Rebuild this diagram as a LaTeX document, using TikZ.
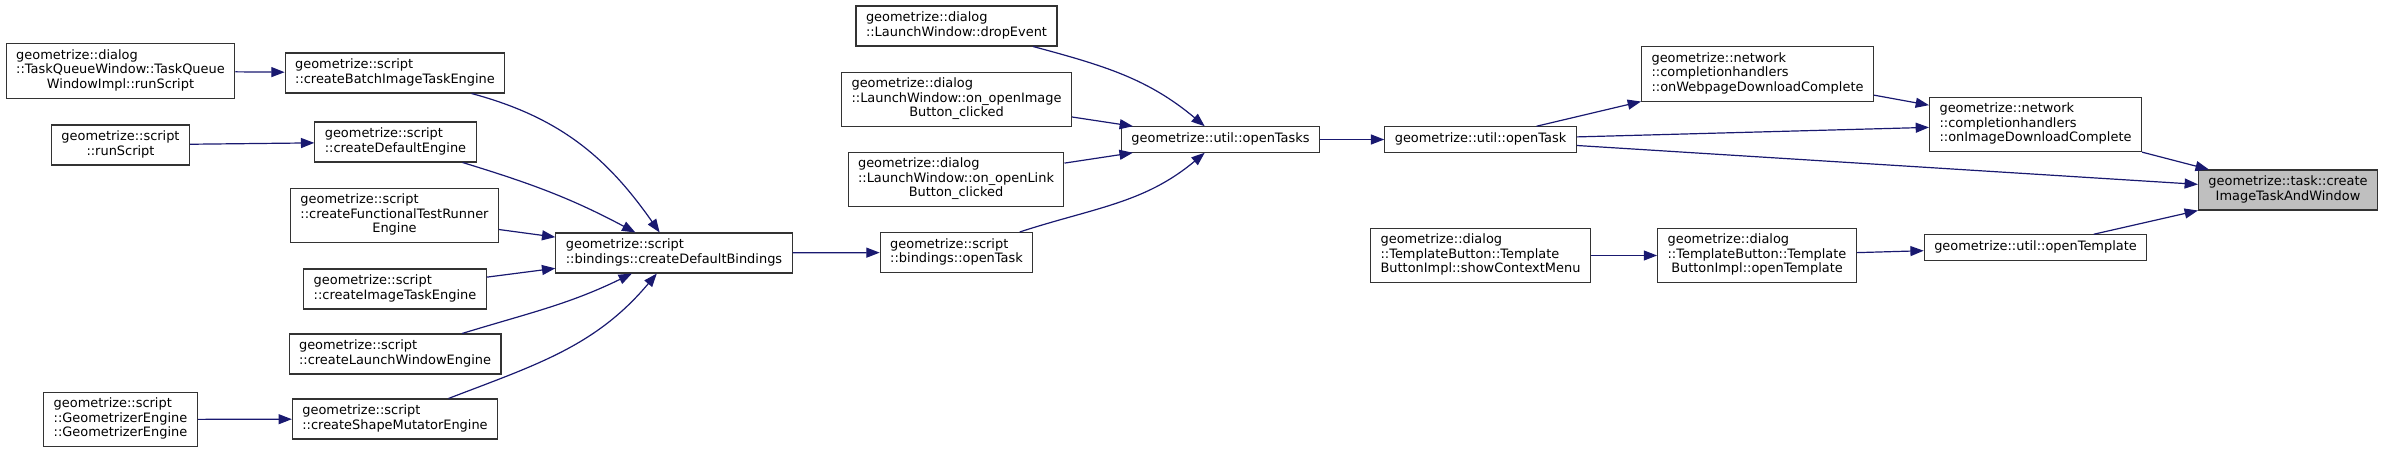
\documentclass[tikz,border=0pt]{standalone}
\usepackage{fontspec}
\setmainfont{DejaVu Sans}
\usetikzlibrary{arrows.meta}
\definecolor{edgeblue}{HTML}{191970}
\newcommand{\fnlabel}[2]{\begin{tabular}{@{}l@{}}#1\\\multicolumn{1}{@{}c@{}}{#2}\end{tabular}}
\newcommand{\fnline}[1]{\begin{tabular}{@{}c@{}}#1\end{tabular}}
\begin{document}
\begin{tikzpicture}[x=0.75pt,y=-0.75pt,
  fn/.style={draw=black!80, line width=0.8pt, fill=white, inner xsep=7.5pt, inner ysep=4.1pt,
    font=\fontsize{9.7}{10.9}\selectfont},
  calls/.style={edgeblue, line width=0.9pt, -{Triangle[length=10pt,width=7.5pt]}}]
  \useasboundingbox (0,0) rectangle (2383,453);
  \node [fn] (tqw)   at (120.5,71)    {\fnlabel{geometrize::dialog\\::TaskQueueWindow::TaskQueue}{WindowImpl::runScript}};
  \node [fn] (rs)    at (120.5,145)   {\fnlabel{geometrize::script}{::runScript}};
  \node [fn] (ge)    at (120.5,419.5) {\fnlabel{geometrize::script\\::GeometrizerEngine}{::GeometrizerEngine}};
  \node [fn] (cbite) at (395,73)      {\fnlabel{geometrize::script}{::createBatchImageTaskEngine}};
  \node [fn] (cde)   at (395.5,142)   {\fnlabel{geometrize::script}{::createDefaultEngine}};
  \node [fn] (cftre) at (394.5,215.5) {\fnlabel{geometrize::script\\::createFunctionalTestRunner}{Engine}};
  \node [fn] (cite)  at (395,289)     {\fnlabel{geometrize::script}{::createImageTaskEngine}};
  \node [fn] (clwe)  at (395,354)     {\fnlabel{geometrize::script}{::createLaunchWindowEngine}};
  \node [fn] (csme)  at (395,419)     {\fnlabel{geometrize::script}{::createShapeMutatorEngine}};
  \node [fn] (cdb)   at (674,253)     {\fnlabel{geometrize::script}{::bindings::createDefaultBindings}};
  \node [fn] (bot)   at (956.5,252.5) {\fnlabel{geometrize::script}{::bindings::openTask}};
  \node [fn] (de)    at (956.5,26)    {\fnlabel{geometrize::dialog}{::LaunchWindow::dropEvent}};
  \node [fn] (oib)   at (956.5,99.5)  {\fnlabel{geometrize::dialog\\::LaunchWindow::on\_openImage}{Button\_clicked}};
  \node [fn] (olb)   at (956,179.5)   {\fnlabel{geometrize::dialog\\::LaunchWindow::on\_openLink}{Button\_clicked}};
  \node [fn] (ots)   at (1220.5,139.5) {\fnline{geometrize::util::openTasks}};
  \node [fn] (ot)    at (1480.5,139.5) {\fnline{geometrize::util::openTask}};
  \node [fn] (scm)   at (1480.5,255.5) {\fnlabel{geometrize::dialog\\::TemplateButton::Template}{ButtonImpl::showContextMenu}};
  \node [fn] (owdc)  at (1757.5,74)   {\fnlabel{geometrize::network\\::completionhandlers}{::onWebpageDownloadComplete}};
  \node [fn] (tbot)  at (1757,255.5)  {\fnlabel{geometrize::dialog\\::TemplateButton::Template}{ButtonImpl::openTemplate}};
  \node [fn] (oidc)  at (2035.5,124.5) {\fnlabel{geometrize::network\\::completionhandlers}{::onImageDownloadComplete}};
  \node [fn] (uot)   at (2035.5,247.5) {\fnline{geometrize::util::openTemplate}};
  \node [fn,fill=black!25] (citaw) at (2288,190) {\fnlabel{geometrize::task::create}{ImageTaskAndWindow}};
  \draw [calls] (tqw) -- (cbite);
  \draw [calls] (rs) -- (cde);
  \draw [calls] (ge) -- (csme);
  \draw [calls] (cbite) to [out=-15,in=125] (cdb);
  \draw [calls] (cde) to [out=-17,in=152] (cdb);
  \draw [calls] (cftre) -- (cdb);
  \draw [calls] (cite) -- (cdb);
  \draw [calls] (clwe) to [out=17,in=-154] (cdb);
  \draw [calls] (csme) to [out=21,in=-130] (cdb);
  \draw [calls] (cdb) -- (bot);
  \draw [calls] (de) to [out=-15,in=140] (ots);
  \draw [calls] (oib) -- (ots);
  \draw [calls] (olb) -- (ots);
  \draw [calls] (bot) to [out=18,in=-140] (ots);
  \draw [calls] (ots) -- (ot);
  \draw [calls] (ot) -- (owdc);
  \draw [calls] (ot) -- (oidc);
  \draw [calls] (ot) -- (citaw);
  \draw [calls] (owdc) -- (oidc);
  \draw [calls] (oidc) -- (citaw);
  \draw [calls] (scm) -- (tbot);
  \draw [calls] (tbot) -- (uot);
  \draw [calls] (uot) -- (citaw);
\end{tikzpicture}
\end{document}
